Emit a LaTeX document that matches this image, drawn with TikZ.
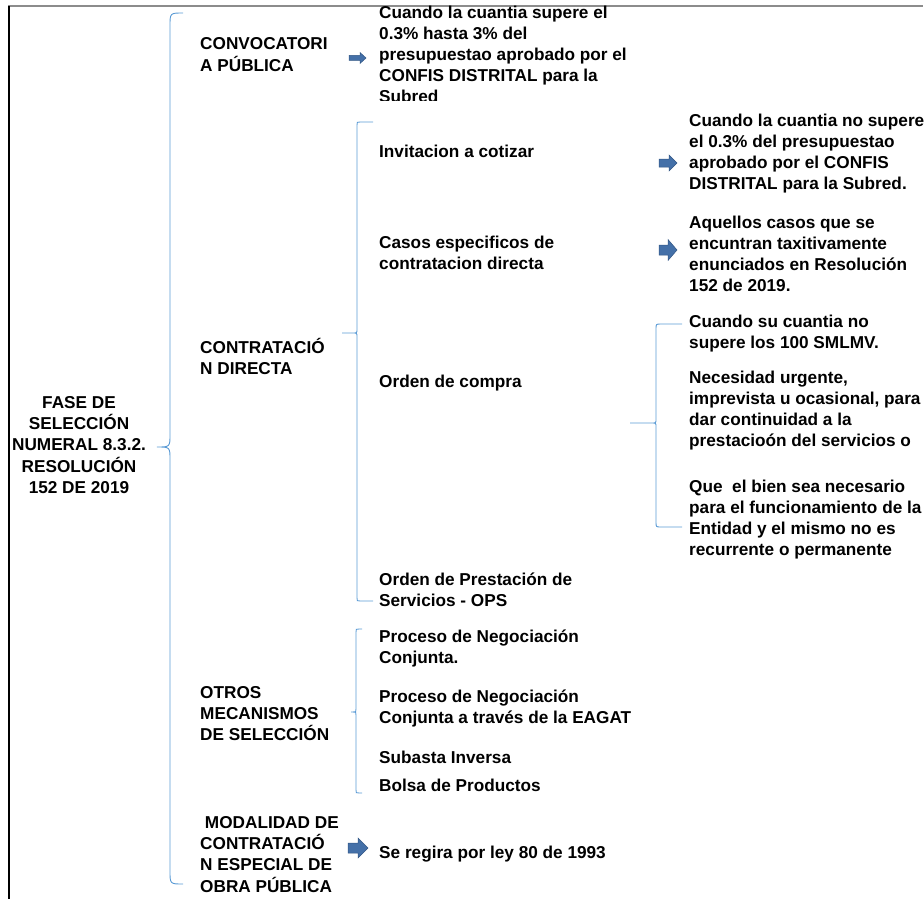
\documentclass[tikz,border=0pt]{standalone}
\usepackage{fontspec}
\setmainfont{Liberation Sans}
\definecolor{bracec}{RGB}{91,155,213}
\definecolor{arrfill}{RGB}{68,112,168}
\definecolor{arrdraw}{RGB}{50,86,132}
\newcommand{\txtfont}{\fontsize{17.2}{21}\selectfont\bfseries}
\newcommand{\LL}[1]{\begin{tabular}[t]{@{}l@{}}#1\end{tabular}}
\newcommand{\CC}[1]{\begin{tabular}[t]{@{}c@{}}#1\end{tabular}}
% brace: xe, xv, xc, ytop, yc, ybot, rend, rcusp
\newcommand{\brc}[8]{%
  \draw[bracestyle] (#1,#4) -- (#2+#7,#4) .. controls (#2,#4) .. (#2,#4+#7)
    -- (#2,#5-#8) .. controls (#2,#5) .. (#2-#8,#5) -- (#3,#5)
    -- (#2-#8,#5) .. controls (#2,#5) .. (#2,#5+#8)
    -- (#2,#6-#7) .. controls (#2,#6) .. (#2+#7,#6) -- (#1,#6);}
% block arrow: xstart, xend, yc, shaft half, head half, head length
\newcommand{\barrow}[6]{%
  \filldraw[arrowstyle] (#1,#3-#4) -- (#2-#6,#3-#4) -- (#2-#6,#3-#5) -- (#2,#3)
    -- (#2-#6,#3+#5) -- (#2-#6,#3+#4) -- (#1,#3+#4) -- cycle;}
\tikzset{
  txt/.style={inner sep=0pt, anchor=base west, font=\txtfont},
  bracestyle/.style={draw=bracec, line width=0.9pt},
  arrowstyle/.style={fill=arrfill, draw=arrdraw, line width=0.5pt, line join=miter},
}
\begin{document}
\begin{tikzpicture}[x=1pt,y=-1pt]
\useasboundingbox (0,0) rectangle (924,899);
% frame lines
\draw[black!45, line width=1.2pt] (8,6) -- (923,6);
\draw[black, line width=1.5pt] (9,6) -- (9,899);

% root
\node[txt, anchor=base] (root) at (79,408) {\CC{FASE DE\\SELECCIÓN\\NUMERAL 8.3.2.\\RESOLUCIÓN\\152 DE 2019}};

% level 1
\node[txt] (conv) at (200,50) {\LL{CONVOCATORI\\A PÚBLICA}};
\node[txt] (cd) at (200,353) {\LL{CONTRATACIÓ\\N DIRECTA}};
\node[txt] (otros) at (200,698) {\LL{OTROS\\MECANISMOS\\DE SELECCIÓN}};
\node[txt] (mod) at (200,828) {\LL{\ MODALIDAD DE\\CONTRATACIÓ\\N ESPECIAL DE\\OBRA PÚBLICA}};

% convocatoria detail (clipped)
\begin{scope}
\clip (370,0) rectangle (700,100);
\node[txt] (convd) at (379,18.5) {\LL{Cuando la cuantia supere el\\0.3\% hasta 3\% del\\presupuestao aprobado por el\\CONFIS DISTRITAL para la\\Subred}};
\end{scope}

% contratacion directa
\node[txt] (inv) at (379,157) {\LL{Invitacion a cotizar}};
\node[txt] (invd) at (689,126) {\LL{Cuando la cuantia no supere\\el 0.3\% del presupuestao\\aprobado por el CONFIS\\DISTRITAL para la Subred.}};
\node[txt] (casos) at (379,248) {\LL{Casos especificos de\\contratacion directa}};
\node[txt] (casosd) at (689,228) {\LL{Aquellos casos que se\\encuntran taxitivamente\\enunciados en Resolución\\152 de 2019.}};
\node[txt] (oc) at (379,387) {\LL{Orden de compra}};
\node[txt] (oc1) at (689,327) {\LL{Cuando su cuantia no\\supere los 100 SMLMV.}};
\node[txt] (oc2) at (689,383) {\LL{Necesidad urgente,\\imprevista u ocasional, para\\dar continuidad a la\\prestacioón del servicios o}};
\node[txt] (oc3) at (689,492.5) {\LL{Que\ \ el bien sea necesario\\para el funcionamiento de la\\Entidad y el mismo no es\\recurrente o permanente}};
\node[txt] (ops) at (379,585) {\LL{Orden de Prestación de\\Servicios - OPS}};

% otros mecanismos
\node[txt] (pn1) at (379,642) {\LL{Proceso de Negociación\\Conjunta.}};
\node[txt] (pn2) at (379,702) {\LL{Proceso de Negociación\\Conjunta a través de la EAGAT}};
\node[txt] (sub) at (379,763) {\LL{Subasta Inversa}};
\node[txt] (bolsa) at (379,791) {\LL{Bolsa de Productos}};

% modalidad especial
\node[txt] (ley) at (379,858) {\LL{Se regira por ley 80 de 1993}};

% braces
\brc{183}{170}{157}{13}{447}{884}{13}{13}
\brc{373}{357}{342}{122}{333}{601}{3}{4}
\brc{362}{356}{351}{629}{712}{793}{3}{3}
\brc{682}{656}{630}{324}{423}{527}{5}{4}

% block arrows
\barrow{349}{366}{58}{2.5}{5.5}{6}
\barrow{659}{677}{163}{4}{8}{8}
\barrow{659}{677}{250}{5}{10.5}{9}
\barrow{348}{368}{848}{5}{10}{10}
\end{tikzpicture}
\end{document}
